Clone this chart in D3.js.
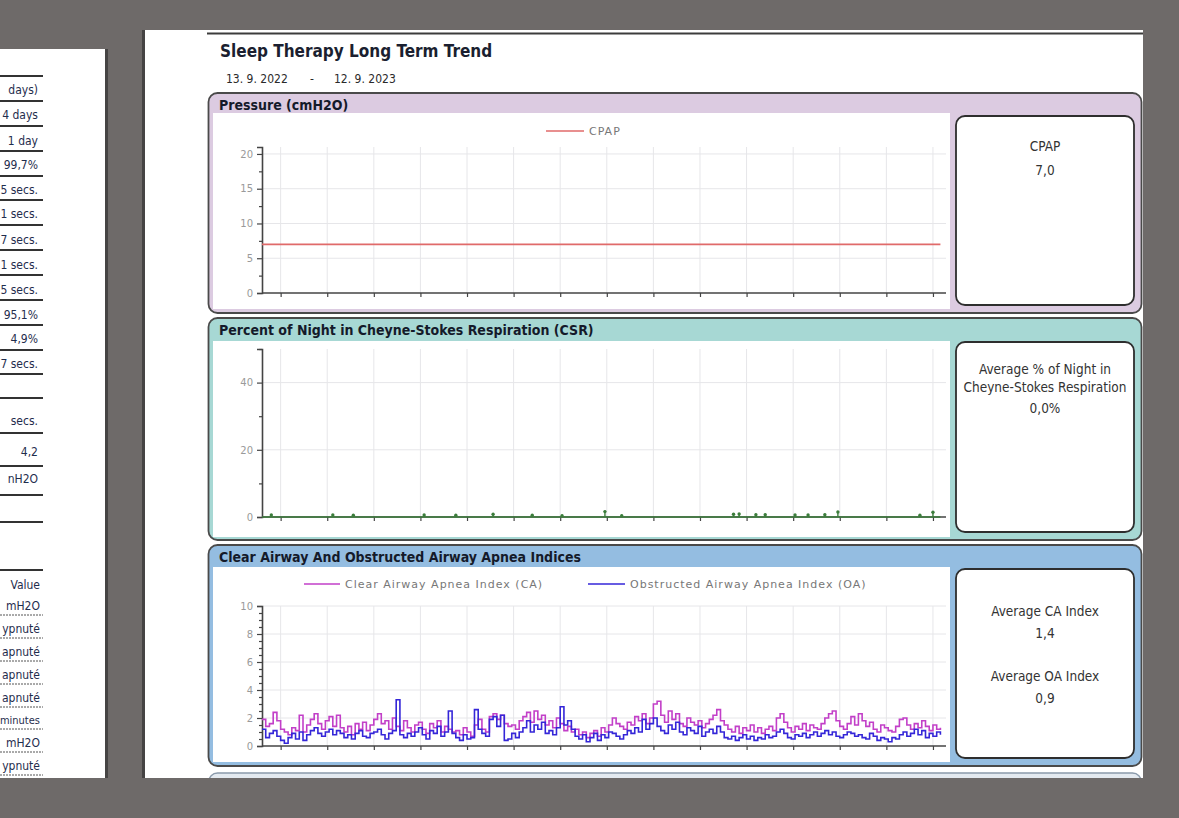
<!DOCTYPE html>
<html><head><meta charset="utf-8">
<script src="https://cdn.jsdelivr.net/npm/d3@7"></script>
<style>
html,body{margin:0;padding:0;background:#6e6a69;overflow:hidden;}
svg{display:block;}
</style></head><body>
<svg id="c" width="1179" height="818"></svg>
<script>
// ---------------- DATA ----------------
const reportTitle = "Sleep Therapy Long Term Trend";
const dateFrom = "13. 9. 2022";
const dateTo = "12. 9. 2023";

// left (previous) page, partly visible
const leftTableValues = ["days)", "4 days", "1 day", "99,7%", "5 secs.", "1 secs.", "7 secs.", "1 secs.", "5 secs.", "95,1%", "4,9%", "7 secs.", "", "secs.", "4,2", "nH2O"];
const leftTable2Header = "Value";
const leftTable2Values = ["mH2O", "ypnuté", "apnuté", "apnuté", "apnuté", "minutes", "mH2O", "ypnuté"];

// panel titles and summaries
const panelTitles = ["Pressure (cmH2O)", "Percent of Night in Cheyne-Stokes Respiration (CSR)", "Clear Airway And Obstructed Airway Apnea Indices"];
const pressureSummary = ["CPAP", "7,0"];
const csrSummary = ["Average % of Night in", "Cheyne-Stokes Respiration", "0,0%"];
const apneaSummary = ["Average CA Index", "1,4", "Average OA Index", "0,9"];

// x axis: day index from 13.9.2022
const xDomain = [0, 367];
const xTickDays = [10, 35, 60, 85, 110, 135, 160, 185, 210, 235, 260, 285, 310, 335, 360];

// Pressure
const pressureTicks = [0, 5, 10, 15, 20];
const pressureMinor = [2.5, 7.5, 12.5, 17.5];
const cpapDays = [0, 200, 201, 364];
const cpapValues = [7.0, 7.0, 7.0, 7.0];
const cpapLabel = "CPAP";

// CSR
const csrTicks = [0, 20, 40];
const csrMinor = [10, 30, 50];
const csrDays = [5, 38, 49, 87, 104, 124, 145, 161, 184, 193, 253, 256, 265, 270, 286, 293, 302, 309, 353, 360];
const csrValues = [0.6, 0.6, 0.5, 0.6, 0.5, 0.8, 0.5, 0.4, 1.6, 0.4, 0.8, 0.9, 0.7, 0.7, 0.6, 0.6, 0.7, 1.5, 0.5, 1.4];

// Apnea indices, one value every 2 days
const apneaTicks = [0, 2, 4, 6, 8, 10];
const apneaMinor = [0.5,1,1.5,2.5,3,3.5,4.5,5,5.5,6.5,7,7.5,8.5,9,9.5];
const caLabel = "Clear Airway Apnea Index (CA)";
const oaLabel = "Obstructed Airway Apnea Index (OA)";
const caValues = [
 1.9,1.4,1.6,2.4,1.8,1.2,1.0,0.8,1.3,1.1,
 2.2,1.0,1.5,1.9,2.3,1.6,1.2,1.8,2.1,1.4,
 2.2,1.3,1.0,1.4,0.8,1.6,1.2,1.7,1.1,1.5,
 1.9,2.3,1.6,1.8,1.2,2.0,1.4,1.1,1.8,1.3,
 1.0,1.5,1.7,1.2,0.9,1.6,1.3,1.8,1.0,1.4,
 1.2,1.0,1.1,0.8,1.3,1.0,0.7,1.5,1.9,1.2,
 1.0,2.1,2.3,1.9,2.2,1.6,1.4,1.5,1.2,1.8,
 2.1,2.4,1.7,2.5,1.9,2.2,1.5,1.8,1.3,2.0,
 1.6,1.1,1.4,1.0,1.2,0.8,1.0,0.6,0.9,1.1,
 0.7,1.3,1.0,1.5,2.0,1.6,1.4,1.2,1.7,1.5,
 2.1,1.8,2.3,1.6,2.0,3.0,3.2,2.2,1.7,2.5,
 1.9,2.3,1.6,1.4,2.0,1.7,1.5,1.8,1.3,1.6,
 1.9,2.2,2.6,1.8,1.5,1.2,1.0,1.4,0.9,1.3,
 1.1,1.5,1.0,1.3,0.9,1.2,1.4,1.1,2.0,2.3,
 1.7,1.3,1.0,1.4,1.2,1.6,1.1,1.5,1.3,1.2,
 1.6,2.0,2.3,2.5,1.8,1.4,1.2,1.6,2.1,1.5,
 2.3,1.8,1.4,1.7,1.2,1.0,1.5,1.3,1.1,1.0,
 1.4,1.9,2.0,1.5,1.2,1.6,1.3,1.8,1.4,1.1,
 1.5,1.2,1.3];
const oaValues = [
 1.2,0.6,0.9,1.1,0.7,0.4,0.2,0.6,0.9,0.5,
 1.0,0.4,0.8,1.1,1.3,0.9,0.7,1.0,1.2,0.8,
 1.1,0.9,0.6,0.8,0.5,0.9,1.1,0.7,0.6,0.9,
 1.0,1.2,0.8,0.5,0.9,1.1,3.3,0.8,0.6,0.9,
 0.7,1.0,1.3,0.8,0.5,1.1,0.9,1.4,0.7,1.0,
 2.5,0.9,0.6,0.4,0.8,0.5,0.6,2.6,1.2,0.9,
 0.7,1.9,2.1,1.4,2.2,0.4,0.5,0.9,0.6,1.0,
 1.3,1.8,1.0,1.5,1.2,1.7,0.9,1.1,0.8,1.3,
 2.8,1.5,1.8,1.2,0.7,0.5,0.8,0.3,0.6,0.9,
 0.4,0.8,0.6,1.0,0.9,0.7,0.5,0.8,1.1,0.9,
 1.3,1.0,1.9,1.2,1.6,2.0,1.4,1.1,0.9,1.5,
 1.2,1.7,1.0,0.8,1.3,1.1,0.9,1.4,0.7,1.0,
 1.2,0.9,1.4,1.0,0.6,0.5,0.7,0.4,0.6,0.8,
 0.5,0.7,0.4,0.6,0.5,0.8,0.6,0.7,1.0,1.2,
 0.9,0.6,0.5,0.8,0.7,0.9,0.6,0.8,1.0,0.7,
 0.9,1.1,0.8,1.0,0.7,0.6,0.8,1.0,0.9,0.7,
 0.8,0.6,0.5,0.9,0.7,0.4,0.6,0.5,0.3,0.6,
 0.5,0.8,1.0,0.7,0.9,1.2,0.8,1.1,0.6,0.9,
 0.7,1.0,0.8];
const apneaDayStep = 2;

// ---------------- DRAWING ----------------
const FONT = "Tahoma, 'DejaVu Sans Condensed', 'DejaVu Sans', sans-serif";
const TICKFONT = "'DejaVu Sans', sans-serif";
const svg = d3.select("#c");

// left page
svg.append("rect").attr("x",0).attr("y",49).attr("width",105).attr("height",729).attr("fill","#fff");
svg.append("rect").attr("x",105).attr("y",49).attr("width",3).attr("height",729).attr("fill","#464444");
const leftText = "#1f2d4d";
const leftLineYs = [76,101,126,151,176,200,225,250,275,300,325,350,374,398,433,466,495,522,570];
const leftTextYs = [90,115,141,165,190,214,240,265,290,315,339,364,389,421,452,479];
leftLineYs.forEach(y => svg.append("line").attr("x1",0).attr("x2",43).attr("y1",y).attr("y2",y)
  .attr("stroke","#333").attr("stroke-width",1.8));
leftTableValues.forEach((t,i) => svg.append("text").attr("x",38).attr("y",leftTextYs[i]+4)
  .attr("text-anchor","end").attr("font-family",FONT).attr("font-size",12).attr("fill",leftText).text(t));
svg.append("text").attr("x",40).attr("y",589).attr("text-anchor","end").attr("font-family",FONT)
  .attr("font-size",12).attr("fill",leftText).text(leftTable2Header);
const left2Ys = [606,629,652,675,698,720,743,766];
leftTable2Values.forEach((t,i) => {
  svg.append("text").attr("x",40).attr("y",left2Ys[i]+4).attr("text-anchor","end").attr("font-family",FONT)
    .attr("font-size",t.length > 6 ? 11 : 12).attr("fill",leftText).text(t);
  svg.append("line").attr("x1",0).attr("x2",43).attr("y1",left2Ys[i]+9).attr("y2",left2Ys[i]+9)
    .attr("stroke","#555").attr("stroke-width",1).attr("stroke-dasharray","2,1");
});

// right page
svg.append("rect").attr("x",142).attr("y",30).attr("width",4).attr("height",748).attr("fill","#454343");
svg.append("rect").attr("x",145).attr("y",30).attr("width",998).attr("height",748).attr("fill","#fff");
svg.append("line").attr("x1",207).attr("x2",1143).attr("y1",33.5).attr("y2",33.5).attr("stroke","#3c3c3c").attr("stroke-width",2);
svg.append("text").attr("x",220).attr("y",57).attr("font-family",FONT).attr("font-weight","bold")
  .attr("font-size",17).attr("fill","#1b1f30").text(reportTitle);
svg.append("text").attr("x",226).attr("y",83).attr("font-family",FONT).attr("font-size",12).attr("fill","#2a2a2a").text(dateFrom);
svg.append("text").attr("x",310).attr("y",83).attr("font-family",FONT).attr("font-size",12).attr("fill","#2a2a2a").text("-");
svg.append("text").attr("x",334).attr("y",83).attr("font-family",FONT).attr("font-size",12).attr("fill","#2a2a2a").text(dateTo);

const x = d3.scaleLinear().domain(xDomain).range([262, 946]);

function panel(p) {
  const g = svg.append("g");
  g.append("rect").attr("x",208.5).attr("y",p.top).attr("width",933).attr("height",p.bottom-p.top)
    .attr("rx",9).attr("fill",p.fill).attr("stroke","#4a4a4a").attr("stroke-width",1.8);
  g.append("text").attr("x",219).attr("y",p.top+17).attr("font-family",FONT).attr("font-weight","bold")
    .attr("font-size",14).attr("fill","#141a2a").text(p.title);
  g.append("rect").attr("x",213).attr("y",p.chartTop).attr("width",737).attr("height",p.chartBottom-p.chartTop).attr("fill","#fff");
  g.append("rect").attr("x",956).attr("y",p.statsTop).attr("width",178).attr("height",p.statsBottom-p.statsTop)
    .attr("rx",9).attr("fill","#fff").attr("stroke","#2e2e2e").attr("stroke-width",1.8);
  p.stats.forEach((s,i) => g.append("text").attr("x",1045).attr("y",p.statsYs[i]+4.5).attr("text-anchor","middle")
    .attr("font-family",FONT).attr("font-size",13.5).attr("fill","#333").text(s));

  const y = d3.scaleLinear().domain(p.yDomain).range(p.yRange);
  const y0 = y(0), yTop = p.yRange[1];
  // grid
  g.append("g").selectAll("line").data(xTickDays).join("line")
    .attr("x1",d=>x(d)).attr("x2",d=>x(d)).attr("y1",yTop).attr("y2",y0).attr("stroke","#e6e6e9").attr("stroke-width",1);
  g.append("g").selectAll("line").data(p.ticks.filter(t=>t>0)).join("line")
    .attr("x1",262).attr("x2",946).attr("y1",d=>y(d)).attr("y2",d=>y(d)).attr("stroke","#e6e6e9").attr("stroke-width",1);
  // y axis
  const ya = d3.axisLeft(y).tickValues(p.ticks).tickSize(5).tickPadding(4).tickFormat(d3.format("d"));
  const yg = g.append("g").attr("transform","translate(262,0)").call(ya);
  yg.select(".domain").attr("stroke","#444").attr("stroke-width",1.6);
  yg.selectAll(".tick line").attr("stroke","#444").attr("stroke-width",1.2);
  yg.selectAll(".tick text").attr("font-family",TICKFONT).attr("font-size",10).attr("fill","#9a9a9a");
  const ym = d3.axisLeft(y).tickValues(p.minor).tickSize(3).tickFormat("");
  const ymg = g.append("g").attr("transform","translate(262,0)").call(ym);
  ymg.select(".domain").remove();
  ymg.selectAll(".tick line").attr("stroke","#444").attr("stroke-width",1.2);
  // x axis
  const xa = d3.axisBottom(x).tickValues(xTickDays).tickSize(4).tickFormat("");
  const xg = g.append("g").attr("transform",`translate(0,${y0})`).call(xa);
  xg.select(".domain").attr("stroke","#444").attr("stroke-width",1.6).attr("d",`M262,0H946`);
  xg.selectAll(".tick line").attr("stroke","#444").attr("stroke-width",1.2);
  return {g, y};
}

function legendText(g, xPos, yPos, txt) {
  g.append("text").attr("x",xPos).attr("y",yPos).attr("font-family",TICKFONT).attr("font-size",11)
    .attr("letter-spacing",1.0).attr("fill","#777").text(txt);
}

// Panel 1: pressure
const p1 = panel({top:93, bottom:313, fill:"#dccbe1", title:panelTitles[0], chartTop:113, chartBottom:309,
  statsTop:116, statsBottom:305, stats:pressureSummary, statsYs:[146,170],
  yDomain:[0,21], yRange:[293,147], ticks:pressureTicks, minor:pressureMinor});
const cpapData = cpapDays.map((d,i)=>({d, v:cpapValues[i]}));
p1.g.append("path").datum(cpapData).attr("fill","none").attr("stroke","#e06a6a").attr("stroke-width",1.7)
  .attr("d", d3.line().x(d=>x(d.d)).y(d=>p1.y(d.v)));
p1.g.append("line").attr("x1",546).attr("x2",584).attr("y1",131).attr("y2",131).attr("stroke","#e06a6a").attr("stroke-width",1.5);
legendText(p1.g, 589, 135, cpapLabel);

// Panel 2: CSR
const p2 = panel({top:318, bottom:540, fill:"#a7d8d4", title:panelTitles[1], chartTop:341, chartBottom:537,
  statsTop:342, statsBottom:532, stats:csrSummary, statsYs:[369,387,408],
  yDomain:[0,50], yRange:[517,349], ticks:csrTicks, minor:csrMinor});
p2.g.append("path").datum([0,364]).attr("fill","none").attr("stroke","#3b7d3b").attr("stroke-width",1.4)
  .attr("d", d3.line().x(d=>x(d)).y(()=>p2.y(0)));
const csrData = csrDays.map((d,i)=>({d, v:csrValues[i]}));
p2.g.append("g").selectAll("line").data(csrData).join("line")
  .attr("x1",d=>x(d.d)).attr("x2",d=>x(d.d)).attr("y1",p2.y(0)).attr("y2",d=>p2.y(d.v)-1)
  .attr("stroke","#3b7d3b").attr("stroke-width",1.4);
p2.g.append("g").selectAll("circle").data(csrData).join("circle")
  .attr("cx",d=>x(d.d)).attr("cy",d=>p2.y(d.v)).attr("r",1.7).attr("fill","#3b7d3b");

// Panel 3: apnea
const p3 = panel({top:545, bottom:766, fill:"#94bde1", title:panelTitles[2], chartTop:567, chartBottom:762,
  statsTop:569, statsBottom:758, stats:apneaSummary, statsYs:[611,633,676,698],
  yDomain:[0,10], yRange:[746,606], ticks:apneaTicks, minor:apneaMinor});
const stepLine = d3.line().x(d=>x(d.d)).y(d=>p3.y(d.v)).curve(d3.curveStepAfter);
const caData = caValues.map((v,i)=>({d:i*apneaDayStep, v}));
const oaData = oaValues.map((v,i)=>({d:i*apneaDayStep, v}));
p3.g.append("path").datum(caData).attr("fill","none").attr("stroke","#c23fc8").attr("stroke-width",1.6).attr("d",stepLine);
p3.g.append("path").datum(oaData).attr("fill","none").attr("stroke","#3426d8").attr("stroke-width",1.6).attr("d",stepLine);
p3.g.append("line").attr("x1",304).attr("x2",340).attr("y1",584).attr("y2",584).attr("stroke","#c23fc8").attr("stroke-width",1.5);
legendText(p3.g, 345, 588, caLabel);
p3.g.append("line").attr("x1",588).attr("x2",625).attr("y1",584).attr("y2",584).attr("stroke","#3426d8").attr("stroke-width",1.5);
legendText(p3.g, 630, 588, oaLabel);

// Panel 4 (cut off)
svg.append("rect").attr("x",208.5).attr("y",773).attr("width",933).attr("height",30).attr("rx",9)
  .attr("fill","#e4eaf0").attr("stroke","#8a9aab").attr("stroke-width",1.4);
// bottom gray covering
svg.append("rect").attr("x",0).attr("y",778).attr("width",1179).attr("height",40).attr("fill","#6e6a69");
</script>
</body></html>
